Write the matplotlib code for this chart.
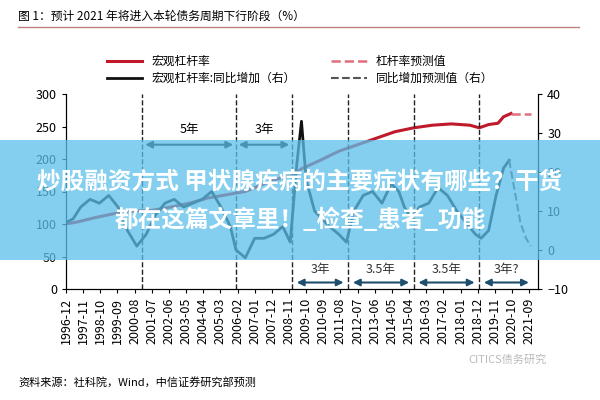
import matplotlib
matplotlib.use("Agg")
import matplotlib.pyplot as plt
from matplotlib.patches import Rectangle
from matplotlib.lines import Line2D

plt.rcParams["font.family"] = ["Noto Sans CJK SC", "DejaVu Sans"]

lev_x = [1996.9, 1997.5, 1998.5, 1999.5, 2000.5, 2001.5, 2002.5, 2003.5, 2004.5, 2005.5, 2006.5,
         2007.5, 2008.5, 2009.0, 2009.5, 2010.5, 2011.5, 2012.5, 2013.5, 2014.5, 2015.5, 2016.5,
         2017.5, 2018.5, 2019.0, 2019.5, 2020.0, 2020.3, 2020.7]
lev_y = [100, 103, 110, 116, 120, 121, 126, 132, 140, 145, 150, 162, 172, 174, 185, 198, 212, 222,
         232, 242, 248, 252, 254, 252, 248, 253, 255, 265, 270]
levf_x = [2020.7, 2021.0, 2021.4, 2021.75]
levf_y = [270, 270, 270, 270]

yoy_x = [1996.9, 1997.3, 1997.7, 1998.2, 1998.7, 1999.2, 1999.7, 2000.2, 2000.7, 2001.2, 2001.7,
         2002.2, 2002.7, 2003.2, 2003.7, 2004.2, 2004.7, 2005.2, 2005.7, 2006.0, 2006.5, 2007.0,
         2007.5, 2008.0, 2008.5, 2008.9, 2009.25, 2009.5, 2009.75, 2010.2, 2010.6, 2011.0, 2011.5,
         2011.9, 2012.3, 2012.8, 2013.3, 2013.8, 2014.3, 2014.7, 2015.0, 2015.4, 2015.8, 2016.3,
         2016.8, 2017.3, 2017.8, 2018.3, 2018.8, 2019.1, 2019.5, 2019.9, 2020.3, 2020.6]
yoy_y = [7, 8, 11, 13, 12, 14, 11, 5, 1, 4, 9, 12, 13, 11, 12, 13, 15, 11, 6, 0, -2, 3, 3, 4, 6,
         2, 22, 33, 18, 10, 8, 6, 4, 2, 10, 14, 15, 12, 17, 15, 11, 8, 11, 12, 16, 14, 10, 7, 4, 3,
         5, 14, 21, 23]
yoyf_x = [2020.6, 2020.9, 2021.2, 2021.5, 2021.75]
yoyf_y = [23, 15, 7, 3, 1]

tick_labels = []
y, m = 1996, 12
while (y, m) <= (2021, 9):
    tick_labels.append((y, m))
    m += 11
    y += (m - 1) // 12
    m = (m - 1) % 12 + 1
tick_pos = [a + (b - 1) / 12 for a, b in tick_labels]
tick_text = [f"{a}-{b:02d}" for a, b in tick_labels]

cycle_lines = [2001.0, 2006.0, 2009.0, 2012.0, 2015.5, 2019.0]
top_arrows = [(2001.0, 2006.0, "5年"), (2006.0, 2009.0, "3年")]
bot_arrows = [(2009.0, 2012.0, "3年"), (2012.0, 2015.5, "3.5年"), (2015.5, 2019.0, "3.5年"),
              (2019.0, 2021.9, "3年?")]

fig = plt.figure(figsize=(6, 4), dpi=100)
ax = fig.add_axes([0.11, 0.2775, 0.787, 0.4875])
ax2 = ax.twinx()
red = "#c0192b"
ax.plot(lev_x, lev_y, color=red, lw=2.2)
ax.plot(levf_x, levf_y, color="#e07080", lw=1.8, ls="--")
ax2.plot(yoy_x, yoy_y, color="#111111", lw=2)
ax2.plot(yoyf_x, yoyf_y, color="#555555", lw=1.5, ls="--")
ax.set_ylim(0, 300)
ax2.set_ylim(-10, 40)
ax.set_yticks([0, 50, 100, 150, 200, 250, 300])
ax2.set_yticks([-10, 0, 10, 20, 30, 40])
ax.set_xlim(1996.92, 2022.15)
ax.set_xticks(tick_pos)
ax.set_xticklabels(tick_text, rotation=90, fontsize=8)
for a in (ax, ax2):
    a.spines["top"].set_visible(False)
    a.tick_params(labelsize=9, length=3)
for xv in cycle_lines:
    ax.axvline(xv, color="#222222", ls="--", lw=1)
for x0, x1, t in top_arrows:
    ax.annotate("", xy=(x0, 222), xytext=(x1, 222),
                arrowprops=dict(arrowstyle="<|-|>", color="#111111", lw=1.5))
    ax.text((x0 + x1) / 2, 245, t, ha="center", va="center", fontsize=9)
for x0, x1, t in bot_arrows:
    ax.annotate("", xy=(x0 + 0.1, 10), xytext=(x1 - 0.1, 10),
                arrowprops=dict(arrowstyle="<|-|>", color="#1f4f6f", lw=1.5))
    ax.text((x0 + x1) / 2, 30, t, ha="center", va="center", fontsize=9, color="#333333")

handles = [Line2D([], [], color=red, lw=2.2), Line2D([], [], color="#e07080", lw=1.8, ls="--"),
           Line2D([], [], color="#111111", lw=2), Line2D([], [], color="#555555", lw=1.5, ls="--")]
labels = ["宏观杠杆率", "杠杆率预测值", "宏观杠杆率:同比增加（右）", "同比增加预测值（右）"]
order = [0, 2, 1, 3]
fig.legend([handles[i] for i in order], [labels[i] for i in order], ncol=2, frameon=False,
           loc="center", bbox_to_anchor=(0.5, 0.825), fontsize=8.5, handlelength=3,
           columnspacing=3, labelspacing=0.3)

fig.text(0.03, 0.96, "图 1：预计 2021 年将进入本轮债务周期下行阶段（%）", fontsize=8.5, va="center")
fig.add_artist(Line2D([0.03, 0.965], [0.933, 0.933], color="#c08080", lw=1))
fig.text(0.03, 0.045, "资料来源：社科院，Wind，中信证券研究部预测", fontsize=8, va="center")
fig.text(0.78, 0.1, "CITICS债务研究", fontsize=8, color="#bbbbbb", va="center")

fig.add_artist(Rectangle((0, 0.35), 1, 0.3, transform=fig.transFigure,
                         facecolor="#5bc0ea", alpha=0.75, edgecolor="none", zorder=10))
fig.text(0.5, 0.545, "炒股融资方式 甲状腺疾病的主要症状有哪些？干货", ha="center", va="center",
         fontsize=17, color="white", weight="bold", zorder=11)
fig.text(0.5, 0.45, "都在这篇文章里！_检查_患者_功能", ha="center", va="center",
         fontsize=17, color="white", weight="bold", zorder=11)

fig.savefig("out.png", dpi=100)
